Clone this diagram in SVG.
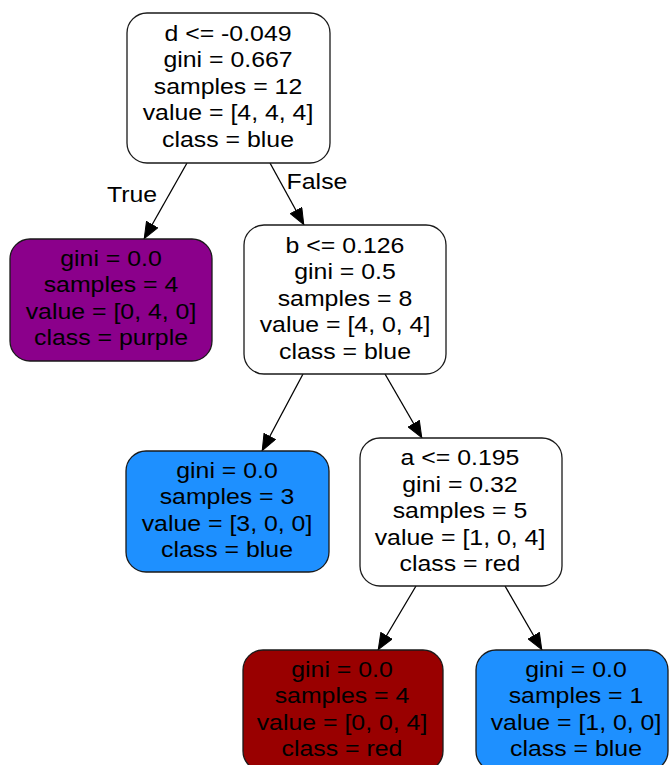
<svg xmlns="http://www.w3.org/2000/svg" width="670" height="765" viewBox="0 0 670 765">
<style>
  .box { stroke: #1a1a1a; stroke-width: 1.3; }
  .w { fill: #ffffff; }
  .purple { fill: #8b008b; }
  .blue { fill: #1e90ff; }
  .red { fill: #990000; }
  text { font-family: "Liberation Sans", Arial, Helvetica, sans-serif; font-size: 22px; fill: #000; text-anchor: middle; }
  .edge { stroke: #000; stroke-width: 1.3; fill: none; }
</style>
<defs>
  <marker id="arr" viewBox="0 0 17 14" refX="17" refY="7" markerWidth="17" markerHeight="14" markerUnits="userSpaceOnUse" orient="auto">
    <path d="M0.5,0.5 L16.5,7 L0.5,13.5 z" fill="#000" stroke="#000" stroke-width="1"/>
  </marker>
</defs>
<rect width="670" height="765" fill="#ffffff"/>

<g id="connectors">
  <path class="edge" d="M187,163 L144,239" marker-end="url(#arr)"/>
  <path class="edge" d="M270,163 L304,225" marker-end="url(#arr)"/>
  <path class="edge" d="M303,374 L262,451" marker-end="url(#arr)"/>
  <path class="edge" d="M385,374 L422,438" marker-end="url(#arr)"/>
  <path class="edge" d="M416,586 L378,650" marker-end="url(#arr)"/>
  <path class="edge" d="M505,586 L542,650" marker-end="url(#arr)"/>
  <g transform="translate(132,0) scale(1.13,1)"><text x="0" y="202">True</text></g>
  <g transform="translate(317,0) scale(1.13,1)"><text x="0" y="189">False</text></g>
</g>

<g id="node0">
  <rect class="box w" x="127" y="13" width="203" height="150" rx="20" ry="20"/>
  <g transform="translate(228,0) scale(1.13,1)">
    <text x="0" y="41">d &lt;= -0.049</text>
    <text x="0" y="67.5">gini = 0.667</text>
    <text x="0" y="94">samples = 12</text>
    <text x="0" y="120.5">value = [4, 4, 4]</text>
    <text x="0" y="147">class = blue</text>
  </g>
</g>

<g id="node1">
  <rect class="box purple" x="10" y="239" width="202" height="122" rx="20" ry="20"/>
  <g transform="translate(111,0) scale(1.13,1)">
    <text x="0" y="266">gini = 0.0</text>
    <text x="0" y="292.5">samples = 4</text>
    <text x="0" y="319">value = [0, 4, 0]</text>
    <text x="0" y="345.5">class = purple</text>
  </g>
</g>

<g id="node2">
  <rect class="box w" x="244" y="225" width="202" height="149" rx="20" ry="20"/>
  <g transform="translate(345,0) scale(1.13,1)">
    <text x="0" y="253">b &lt;= 0.126</text>
    <text x="0" y="279.5">gini = 0.5</text>
    <text x="0" y="306">samples = 8</text>
    <text x="0" y="332.5">value = [4, 0, 4]</text>
    <text x="0" y="359">class = blue</text>
  </g>
</g>

<g id="node3">
  <rect class="box blue" x="126" y="451" width="203" height="121" rx="20" ry="20"/>
  <g transform="translate(227,0) scale(1.13,1)">
    <text x="0" y="478">gini = 0.0</text>
    <text x="0" y="504.5">samples = 3</text>
    <text x="0" y="531">value = [3, 0, 0]</text>
    <text x="0" y="557.5">class = blue</text>
  </g>
</g>

<g id="node4">
  <rect class="box w" x="360" y="438" width="202" height="148" rx="20" ry="20"/>
  <g transform="translate(460,0) scale(1.13,1)">
    <text x="0" y="465.5">a &lt;= 0.195</text>
    <text x="0" y="492">gini = 0.32</text>
    <text x="0" y="518.5">samples = 5</text>
    <text x="0" y="545">value = [1, 0, 4]</text>
    <text x="0" y="571.5">class = red</text>
  </g>
</g>

<g id="node5">
  <rect class="box red" x="243" y="650" width="200" height="121" rx="20" ry="20"/>
  <g transform="translate(342,0) scale(1.13,1)">
    <text x="0" y="677">gini = 0.0</text>
    <text x="0" y="703.5">samples = 4</text>
    <text x="0" y="730">value = [0, 0, 4]</text>
    <text x="0" y="756.5">class = red</text>
  </g>
</g>

<g id="node6">
  <rect class="box blue" x="476" y="650" width="192" height="121" rx="20" ry="20"/>
  <g transform="translate(576,0) scale(1.13,1)">
    <text x="0" y="677">gini = 0.0</text>
    <text x="0" y="703.5">samples = 1</text>
    <text x="0" y="730">value = [1, 0, 0]</text>
    <text x="0" y="756.5">class = blue</text>
  </g>
</g>
</svg>
